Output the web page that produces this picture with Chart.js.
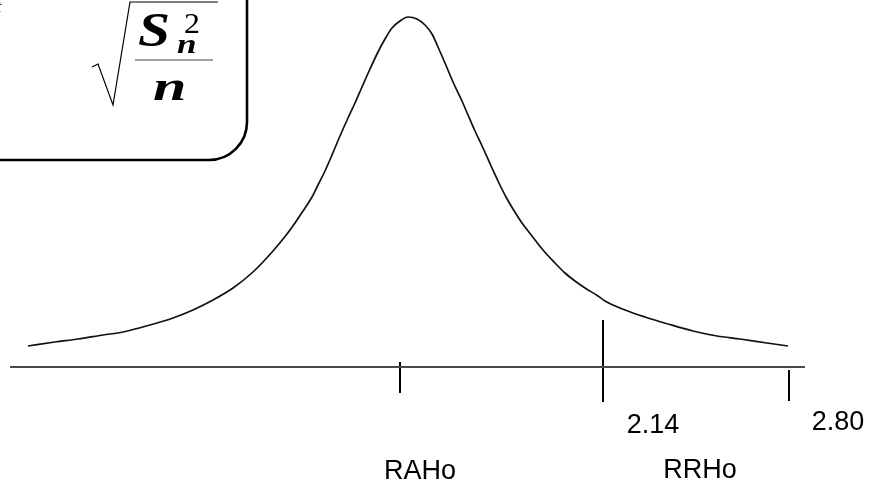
<!DOCTYPE html>
<html>
<head>
<meta charset="utf-8">
<script src="https://cdn.jsdelivr.net/npm/chart.js@4.4.1/dist/chart.umd.min.js"></script>
<style>
  html, body { margin: 0; padding: 0; background: #fff; }
  #wrap { width: 870px; height: 500px; position: relative; }
</style>
</head>
<body>
<div id="wrap"><canvas id="tChart"></canvas></div>
<script>
// Curve: position along the axis, height above the axis
const curveX = [28, 55, 78, 103, 123, 150, 173, 193, 213, 233, 253, 273, 287, 295, 303, 312, 318, 325, 332, 340,
  348, 355, 362, 370, 378, 385, 392, 400, 408, 417, 425, 432, 438, 445, 453, 462, 468, 475, 483, 492,
  498, 506, 513, 522, 532, 543, 555, 565, 575, 585, 598, 605, 625, 645, 668, 693, 717, 740, 767, 788];
const curveY = [21, 25, 28, 32, 35, 42, 49, 57, 67, 79, 95, 116, 133, 144, 156, 170, 182, 196, 212, 231,
  249, 264, 280, 298, 315, 328, 339, 346, 350, 348, 342, 333, 320, 304, 285, 266, 252, 236, 219, 199,
  186, 170, 158, 144, 131, 117, 104, 94, 86, 79, 71, 66, 57, 50, 43, 36, 31, 28, 24, 21];

// Horizontal axis extent
const axisX = [10, 805];

// Tick marks: where they sit on the axis and how far they reach up / down
const tickX = [400, 603, 789];
const tickTop = [5, 47, -3];
const tickBottom = [-26, -35, -34];

// Text under the axis
const valueLabels = ['2.14', '2.80'];
const regionLabels = ['RAHo', 'RRHo'];

const datasets = [];
datasets.push({
  data: curveX.map((x, i) => ({ x: x, y: curveY[i] })),
  borderColor: '#111',
  borderWidth: 1.7,
  cubicInterpolationMode: 'monotone',
  pointRadius: 0
});
datasets.push({
  data: axisX.map(x => ({ x: x, y: 0 })),
  borderColor: '#4a4a4a',
  borderWidth: 2,
  pointRadius: 0
});
tickX.forEach((x, i) => {
  datasets.push({
    data: [{ x: x, y: tickTop[i] }, { x: x, y: tickBottom[i] }],
    borderColor: '#000',
    borderWidth: 2,
    pointRadius: 0
  });
});

// Labels under the axis, placed in chart units
const labelSpots = [
  { text: valueLabels[0], x: 653, y: -66 },
  { text: valueLabels[1], x: 838, y: -63 },
  { text: regionLabels[0], x: 420, y: -112 },
  { text: regionLabels[1], x: 700, y: -111 }
];

const labelPlugin = {
  id: 'labels',
  afterDatasetsDraw(chart) {
    const ctx = chart.ctx;
    const sx = chart.scales.x, sy = chart.scales.y;
    ctx.save();
    ctx.fillStyle = '#000';
    ctx.font = '27px "Liberation Sans", Arial, sans-serif';
    ctx.textAlign = 'center';
    ctx.textBaseline = 'alphabetic';
    labelSpots.forEach(l => {
      ctx.fillText(l.text, sx.getPixelForValue(l.x), sy.getPixelForValue(l.y));
    });
    ctx.restore();
  }
};

// draw text stretched sideways, the formula glyphs are wide
function wideText(ctx, txt, x, y, font, sx) {
  ctx.save();
  ctx.font = font;
  ctx.translate(x, y);
  ctx.scale(sx, 1);
  ctx.fillText(txt, 0, 0);
  ctx.restore();
}

// Rounded box with the standard error formula in the top-left corner
const formulaBox = {
  id: 'formulaBox',
  afterDraw(chart) {
    const ctx = chart.ctx;
    ctx.save();
    // box (left and top run off the picture)
    const r = 38, right = 247, bottom = 160;
    ctx.beginPath();
    ctx.moveTo(-10, bottom);
    ctx.lineTo(right - r, bottom);
    ctx.arcTo(right, bottom, right, bottom - r, r);
    ctx.lineTo(right, -10);
    ctx.lineWidth = 2.6;
    ctx.strokeStyle = '#000';
    ctx.stroke();

    // radical sign
    ctx.beginPath();
    ctx.moveTo(92, 67);
    ctx.lineTo(98, 64);
    ctx.lineTo(113, 105);
    ctx.lineTo(130, 2);
    ctx.lineTo(218, 2);
    ctx.lineWidth = 1.2;
    ctx.stroke();

    // fraction bar
    ctx.beginPath();
    ctx.moveTo(135, 60);
    ctx.lineTo(213, 60);
    ctx.lineWidth = 1.2;
    ctx.strokeStyle = '#444';
    ctx.stroke();

    ctx.fillStyle = '#000';
    ctx.textAlign = 'left';
    ctx.textBaseline = 'alphabetic';
    const serif = '"Liberation Serif", "Times New Roman", serif';
    wideText(ctx, 'S', 138, 46, 'italic bold 48px ' + serif, 1.2);
    wideText(ctx, '2', 184, 33, '29px ' + serif, 1.1);
    wideText(ctx, 'n', 177, 53, 'italic bold 27px ' + serif, 1.3);
    wideText(ctx, 'n', 153, 100, 'italic bold 40px ' + serif, 1.5);
    ctx.font = 'italic 16px ' + serif;
    ctx.fillText('t', -3, 12);
    ctx.restore();
  }
};

new Chart(document.getElementById('tChart'), {
  type: 'scatter',
  data: { datasets: datasets.map(d => Object.assign({ showLine: true, fill: false }, d)) },
  options: {
    responsive: true,
    maintainAspectRatio: false,
    animation: false,
    layout: { padding: 0 },
    plugins: {
      legend: { display: false },
      tooltip: { enabled: false }
    },
    scales: {
      x: { type: 'linear', min: 0, max: 870, display: false },
      y: { type: 'linear', min: -133, max: 367, display: false }
    }
  },
  plugins: [labelPlugin, formulaBox]
});
</script>
</body>
</html>
